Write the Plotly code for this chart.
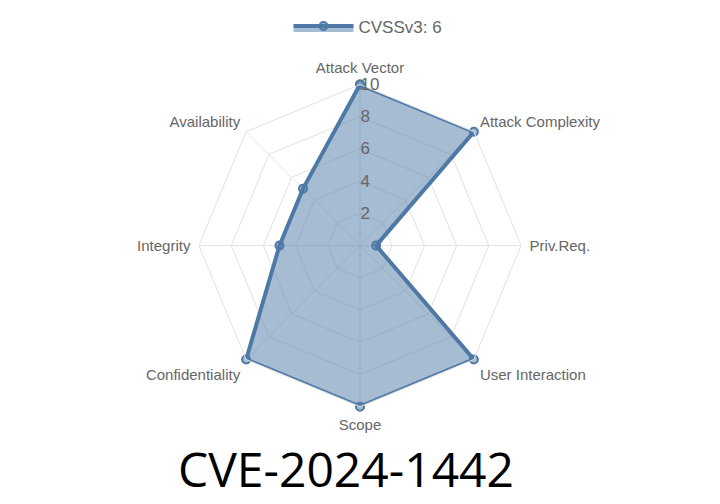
import plotly.graph_objects as go

categories = ["Attack Vector", "Attack Complexity", "Priv.Req.", "User Interaction",
              "Scope", "Confidentiality", "Integrity", "Availability"]
values = [10, 10, 1, 10, 10, 10, 5, 5]
series_name = "CVSSv3: 6"
title_text = "CVE-2024-1442"
radial_ticks = [2, 4, 6, 8, 10]

line_color = "rgb(78,121,167)"
fill_color = "rgba(78,121,167,0.5)"

fig = go.Figure()
fig.add_trace(go.Scatterpolar(
    r=values + values[:1],
    theta=categories + categories[:1],
    mode="lines+markers",
    fill="toself",
    fillcolor=fill_color,
    line=dict(color=line_color, width=4),
    marker=dict(size=8, color=fill_color, line=dict(color=line_color, width=2)),
    name=series_name,
    showlegend=True,
))

fig.update_layout(
    width=720, height=504,
    margin=dict(l=0, r=0, t=0, b=0),
    paper_bgcolor="white",
    plot_bgcolor="white",
    font=dict(family="Liberation Sans, Arial, sans-serif", color="#666"),
    polar=dict(
        domain=dict(x=[0.2639, 0.7139], y=[0.2103, 0.8532]),
        bgcolor="white",
        gridshape="linear",
        angularaxis=dict(
            direction="clockwise", rotation=90,
            gridcolor="#e2e2e2", linecolor="#e2e2e2",
            showline=True, ticks="outside", ticklen=5, tickcolor="rgba(0,0,0,0)",
            tickfont=dict(size=15, color="#666"),
        ),
        radialaxis=dict(
            range=[0, 10], tickvals=radial_ticks, angle=90, tickangle=90,
            gridcolor="#e2e2e2", showline=False, ticks="",
            tickfont=dict(size=17, color="#666"),
        ),
    ),
    legend=dict(
        orientation="h", x=0.5, xanchor="center", y=1.005, yanchor="top",
        font=dict(size=17, color="#666"), itemwidth=60,
    ),
    annotations=[dict(
        text=title_text, x=0.4695, y=0.086, xref="paper", yref="paper",
        xanchor="center", yanchor="middle", showarrow=False,
        font=dict(family="Open Sans, Noto Sans, sans-serif", size=48, color="black"),
    )],
)

fig.write_html("out.html")
